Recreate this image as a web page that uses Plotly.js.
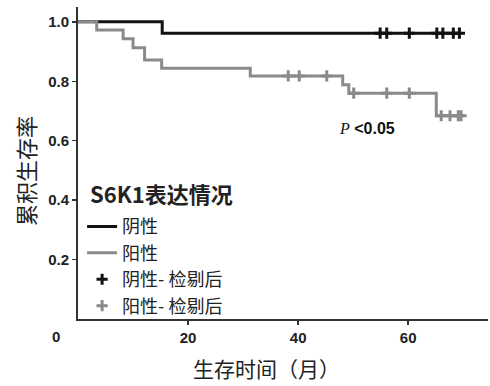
<!DOCTYPE html>
<html>
<head>
<meta charset="utf-8">
<script src="https://cdn.plot.ly/plotly-3.0.1.min.js"></script>
<style>html,body{margin:0;padding:0;background:#fff}#chart{width:490px;height:386px}</style>
</head>
<body>
<div id="chart"></div>
<script>
// Kaplan-Meier step data (months, cumulative survival)
const negTimes = [0, 15.3, 69.7];
const negSurv = [1.0, 0.962, 0.962];
const posTimes = [0, 3.4, 8.2, 10.0, 12.1, 15.2, 31.3, 48.1, 49.2, 65.1, 69.8];
const posSurv = [1.0, 0.973, 0.943, 0.913, 0.872, 0.844, 0.818, 0.788, 0.760, 0.684, 0.684];
// censored observations
const negCensorTimes = [54.9, 56.1, 60.2, 65.2, 66.3, 68.2, 69.3];
const negCensorSurv = [0.962, 0.962, 0.962, 0.962, 0.962, 0.962, 0.962];
const posCensorTimes = [38.2, 40.2, 45.2, 50.1, 56.1, 60.2, 66.0, 67.6, 69.1, 69.6];
const posCensorSurv = [0.818, 0.818, 0.818, 0.760, 0.760, 0.760, 0.684, 0.684, 0.684, 0.684];
// labels
const seriesNames = ['阴性', '阳性', '阴性- 检剔后', '阳性- 检剔后'];
const legendTitle = 'S6K1表达情况';
const yTickVals = [0.2, 0.4, 0.6, 0.8, 1.0];
const yTickText = ['0.2', '0.4', '0.6', '0.8', '1.0'];
const xTickVals = [20, 40, 60];
const xTickText = ['20', '40', '60'];
const yTitle = '累积生存率';
const xTitle = '生存时间（月）';
const pText = '<span style="font-family:Liberation Serif;font-style:italic;font-weight:normal">P</span> &lt;0.05';

const BLACK = '#111111', GRAY = '#8a8a8a';
const cjk = '"Noto Sans CJK SC", sans-serif';
const latin = '"Liberation Sans", Arial, sans-serif';

const traces = [
  {x: negTimes, y: negSurv, mode: 'lines', line: {shape: 'hv', color: BLACK, width: 3}, name: seriesNames[0]},
  {x: posTimes, y: posSurv, mode: 'lines', line: {shape: 'hv', color: GRAY, width: 3}, name: seriesNames[1]},
  {x: negCensorTimes, y: negCensorSurv, mode: 'markers', name: seriesNames[2],
   marker: {symbol: 'cross-thin', size: 8, color: BLACK, line: {color: BLACK, width: 3}}},
  {x: posCensorTimes, y: posCensorSurv, mode: 'markers', name: seriesNames[3],
   marker: {symbol: 'cross-thin', size: 8, color: GRAY, line: {color: GRAY, width: 3}}}
];

const layout = {
  width: 490, height: 386,
  margin: {l: 78, r: 2, t: 7, b: 67},
  paper_bgcolor: '#fff', plot_bgcolor: '#fff',
  showlegend: true,
  legend: {
    x: 0.01, y: 0.355, xanchor: 'left', yanchor: 'top',
    bgcolor: 'rgba(0,0,0,0)', traceorder: 'normal',
    font: {family: cjk, size: 18, color: '#222'},
    itemwidth: 30, tracegroupgap: 0
  },
  xaxis: {
    range: [0, 74.5], showgrid: false, zeroline: false,
    showline: true, linecolor: '#333', linewidth: 2, mirror: false,
    ticks: 'outside', ticklen: 4, tickwidth: 1.5, tickcolor: '#333',
    tickvals: xTickVals, ticktext: xTickText,
    tickfont: {family: latin, size: 15, color: '#222', weight: 'bold'}
  },
  yaxis: {
    range: [0, 1.05], showgrid: false, zeroline: false,
    showline: true, linecolor: '#333', linewidth: 2,
    ticks: 'outside', ticklen: 4, tickwidth: 1.5, tickcolor: '#333',
    tickvals: yTickVals, ticktext: yTickText,
    tickfont: {family: latin, size: 15, color: '#222', weight: 'bold'}
  },
  annotations: [
    {xref: 'paper', yref: 'paper', x: 0.024, y: 0.404, xanchor: 'left', yanchor: 'middle',
     text: legendTitle, showarrow: false, font: {family: cjk, size: 22, color: '#222', weight: 'bold'}},
    {xref: 'paper', yref: 'paper', x: -0.04, y: -0.055, xanchor: 'right', yanchor: 'middle',
     text: '0', showarrow: false, font: {family: latin, size: 15, color: '#222', weight: 'bold'}},
    {xref: 'paper', yref: 'paper', x: 0.46, y: -0.158, xanchor: 'center', yanchor: 'middle',
     text: xTitle, showarrow: false, font: {family: cjk, size: 21, color: '#222'}},
    {xref: 'paper', yref: 'paper', x: -0.129, y: 0.475, xanchor: 'center', yanchor: 'middle',
     text: yTitle, textangle: -90, showarrow: false, font: {family: cjk, size: 22, color: '#222'}},
    {xref: 'x', yref: 'y', x: 47, y: 0.64, xanchor: 'left', yanchor: 'middle',
     text: pText, showarrow: false, font: {family: latin, size: 16, color: '#111', weight: 'bold'}}
  ]
};

Plotly.newPlot('chart', traces, layout, {displayModeBar: false, staticPlot: true});
</script>
</body>
</html>
